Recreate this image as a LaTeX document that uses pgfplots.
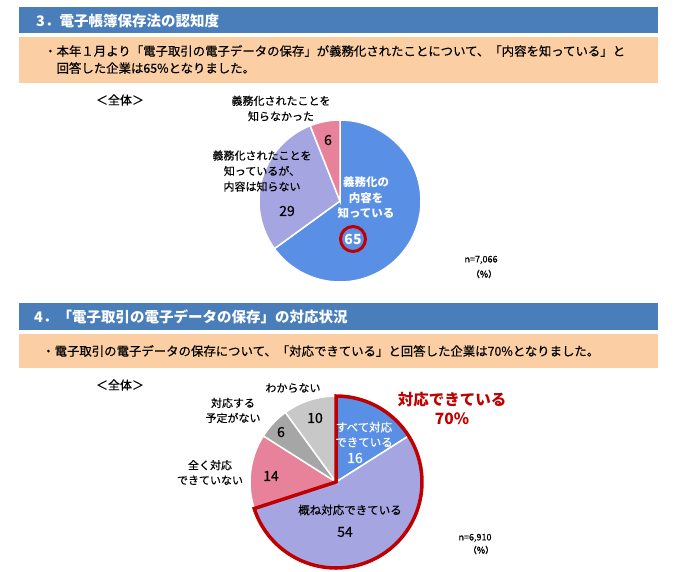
\documentclass[border=0pt]{standalone}
\usepackage{pgfplots}
\pgfplotsset{compat=1.18}
\usepackage{fontspec}
\setmainfont{Noto Sans CJK JP}
\newfontfamily\mfont{Noto Sans CJK JP}[FakeBold=0.35]
\definecolor{hdr}{HTML}{4A7EBB}
\definecolor{peach}{HTML}{FBCFA3}
\definecolor{pblue}{HTML}{5A8FE6}
\definecolor{plav}{HTML}{A5A5E1}
\definecolor{ppink}{HTML}{E8829A}
\definecolor{pdgray}{HTML}{A6A6A6}
\definecolor{plgray}{HTML}{C8C8C8}
\definecolor{dred}{HTML}{C00000}
\newcommand{\fs}[2]{\fontsize{#1bp}{#2bp}\selectfont}
\begin{document}
\begin{tikzpicture}[x=1bp,y=1bp]
\useasboundingbox (0,0) rectangle (678,-572);
\fill[white] (0,0) rectangle (678,-572);
% ---------- section 3 ----------
\fill[hdr] (19,-7) rectangle (658,-33);
\node[anchor=west, text=white, font=\bfseries\fs{14.5}{16}, inner sep=0] at (36,-21) {3．電子帳簿保存法の認知度};
\fill[peach] (19,-37) rectangle (658,-83);
\node[anchor=west, inner sep=0, font=\mfont\fs{12.4}{15}] at (44,-51) {・本年１月より「電子取引の電子データの保存」が義務化されたことについて、「内容を知っている」と};
\node[anchor=west, inner sep=0, font=\mfont\fs{12.4}{15}] at (56.4,-68) {回答した企業は65\%となりました。};
\node[font=\mfont\fs{12}{14}, inner sep=0] at (120,-100) {＜全体＞};

\begin{axis}[at={(340,-201)}, anchor=origin, hide axis, x=1bp, y=1bp,
  xmin=-100, xmax=100, ymin=-100, ymax=100, scale only axis, clip=false,
  samples=90, variable=\t]
\addplot[fill=pblue, draw=white, line width=1.5bp, domain={90-3.6*65}:90] ({81*cos(\t)},{81*sin(\t)}) -- (axis cs:0,0) -- cycle;
\addplot[fill=plav, draw=white, line width=1.5bp, domain={90-3.6*(65+29)}:{90-3.6*65}] ({81*cos(\t)},{81*sin(\t)}) -- (axis cs:0,0) -- cycle;
\addplot[fill=ppink, draw=white, line width=1.5bp, domain={90-3.6*(65+29+6)}:{90-3.6*(65+29)}] ({81*cos(\t)},{81*sin(\t)}) -- (axis cs:0,0) -- cycle;
\end{axis}

\node[align=center, font=\mfont\fs{11}{15.5}, inner sep=0] at (281,-108.5) {義務化されたことを\\知らなかった};
\node[align=center, font=\mfont\fs{11}{15.5}, inner sep=0] at (262,-171) {義務化されたことを\\知っているが、\\内容は知らない};
\node[font=\mfont\fs{14}{16}, inner sep=0] at (328,-140) {6};
\node[font=\mfont\fs{14}{16}, inner sep=0] at (287,-211) {29};
\node[align=center, text=white, font=\bfseries\fs{11.5}{15.5}, inner sep=0] at (366,-198) {義務化の\\内容を\\知っている};
\draw[dred, line width=3bp] (353,-239) circle (12.5);
\node[text=white, font=\bfseries\fs{14}{16}, inner sep=0] at (353,-239) {65};
\node[font=\mfont\fs{9}{10}, inner sep=0] at (481,-260) {n=7,066};
\node[font=\mfont\fs{9}{10}, inner sep=0] at (484,-274) {（\%）};

% ---------- section 4 ----------
\fill[hdr] (19,-303) rectangle (658,-330);
\node[anchor=west, text=white, font=\bfseries\fs{14.5}{16}, inner sep=0] at (34,-317) {4．「電子取引の電子データの保存」の対応状況};
\fill[peach] (19,-334) rectangle (658,-368);
\node[anchor=west, inner sep=0, font=\mfont\fs{12.4}{15}] at (42,-351) {・電子取引の電子データの保存について、「対応できている」と回答した企業は70\%となりました。};
\node[font=\mfont\fs{12}{14}, inner sep=0] at (120,-385) {＜全体＞};

\begin{axis}[at={(336,-482)}, anchor=origin, hide axis, x=1bp, y=1bp,
  xmin=-100, xmax=100, ymin=-100, ymax=100, scale only axis, clip=false,
  samples=90, variable=\t]
\addplot[fill=pblue, draw=white, line width=1.5bp, domain={90-3.6*16}:90] ({86*cos(\t)},{86*sin(\t)}) -- (axis cs:0,0) -- cycle;
\addplot[fill=plav, draw=white, line width=1.5bp, domain={90-3.6*(16+54)}:{90-3.6*16}] ({86*cos(\t)},{86*sin(\t)}) -- (axis cs:0,0) -- cycle;
\addplot[fill=ppink, draw=white, line width=1.5bp, domain={90-3.6*(16+54+14)}:{90-3.6*(16+54)}] ({86*cos(\t)},{86*sin(\t)}) -- (axis cs:0,0) -- cycle;
\addplot[fill=pdgray, draw=white, line width=1.5bp, domain={90-3.6*(16+54+14+6)}:{90-3.6*(16+54+14)}] ({86*cos(\t)},{86*sin(\t)}) -- (axis cs:0,0) -- cycle;
\addplot[fill=plgray, draw=white, line width=1.5bp, domain={90-3.6*(16+54+14+6+10)}:{90-3.6*(16+54+14+6)}] ({86*cos(\t)},{86*sin(\t)}) -- (axis cs:0,0) -- cycle;
\addplot[draw=dred, line width=3.5bp, fill=none, samples=120, domain={90-3.6*(16+54)}:90] ({86*cos(\t)},{86*sin(\t)}) -- (axis cs:0,0) -- cycle;
\end{axis}

\node[font=\mfont\fs{11}{15}, inner sep=0] at (293,-388) {わからない};
\node[align=center, font=\mfont\fs{11}{15}, inner sep=0] at (233,-410.5) {対応する\\予定がない};
\node[align=center, font=\mfont\fs{11}{15}, inner sep=0] at (210,-472.5) {全く対応\\できていない};
\node[font=\mfont\fs{14}{16}, inner sep=0] at (315,-418) {10};
\node[font=\mfont\fs{14}{16}, inner sep=0] at (281,-432) {6};
\node[font=\mfont\fs{14}{16}, inner sep=0] at (271,-476) {14};
\node[align=center, text=white, font=\mfont\fs{11.5}{15}, inner sep=0] at (364,-434.5) {すべて対応\\できている};
\node[text=white, font=\mfont\fs{14}{16}, inner sep=0] at (355,-458) {16};
\node[font=\mfont\fs{11.5}{14}, inner sep=0] at (350,-510) {概ね対応できている};
\node[font=\mfont\fs{14}{16}, inner sep=0] at (345,-532) {54};
\node[text=dred, font=\bfseries\fs{15.5}{18}, inner sep=0] at (452,-400) {対応できている};
\node[text=dred, font=\bfseries\fs{15.5}{18}, inner sep=0] at (452,-419) {70\%};
\node[font=\mfont\fs{9}{10}, inner sep=0] at (475,-538) {n=6,910};
\node[font=\mfont\fs{9}{10}, inner sep=0] at (481,-550) {（\%）};
\end{tikzpicture}
\end{document}
